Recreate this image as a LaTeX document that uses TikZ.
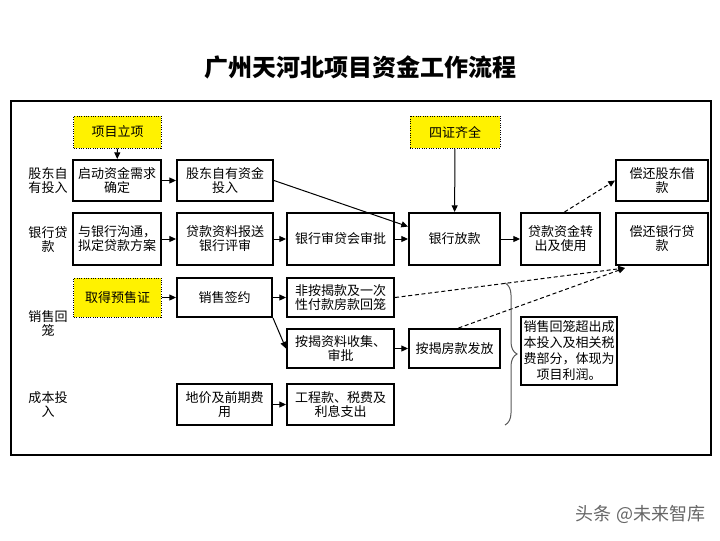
\documentclass[tikz,border=0pt]{standalone}
\usepackage{fontspec}
\newfontfamily\cjk{Noto Sans CJK SC}
\usetikzlibrary{arrows.meta,decorations.pathreplacing}

\begin{document}
\begin{tikzpicture}[x=0.75pt,y=0.75pt,yscale=-1,xscale=1,
	box/.style={draw,line width=1.5pt,inner sep=0pt,align=center,font=\cjk\fontsize{9.75}{10.5}\selectfont},
	ybox/.style={draw,densely dotted,line width=0.75pt,fill=yellow,inner sep=0pt,align=center,font=\cjk\fontsize{9.75}{10.5}\selectfont},
	lab/.style={inner sep=0pt,align=center,font=\cjk\fontsize{9.75}{10.5}\selectfont},
	arr/.style={-{Triangle[length=5pt,width=4.5pt]},line width=0.75pt},
	darr/.style={arr,dash pattern=on 3pt off 2pt}]
	\useasboundingbox (0,0) rectangle (720,540);
	
	% Title
	\draw (360,67) node [font=\cjk\bfseries\fontsize{18}{20}\selectfont] (title) {广州天河北项目资金工作流程};
	%Shape: Rectangle (frame)
	\draw [line width=1.5pt] (11,101) -- (711,101) -- (711,455) -- (11,455) -- cycle ;
	
	% Row labels
	\draw (48,181) node [lab] (r1) {股东自\\有投入};
	\draw (48,240) node [lab] (r2) {银行贷\\款};
	\draw (48,324) node [lab] (r3) {销售回\\笼};
	\draw (48,405) node [lab] (r4) {成本投\\入};
	
	% Boxes
	\draw (117.5,132) node [ybox,minimum width=65.5pt,minimum height=24pt] (lx) {项目立项};
	\draw (455,132) node [ybox,minimum width=67.5pt,minimum height=24pt] (sz) {四证齐全};
	\draw (117,180.5) node [box,minimum width=66pt,minimum height=30.75pt] (qd) {启动资金需求\\确定};
	\draw (225,180.5) node [box,minimum width=72pt,minimum height=30.75pt] (gd) {股东自有资金\\投入};
	\draw (662,180.5) node [box,minimum width=69pt,minimum height=30.75pt] (hg) {偿还股东借\\款};
	\draw (117,239) node [box,minimum width=66pt,minimum height=39pt] (yh) {与银行沟通，\\拟定贷款方案};
	\draw (225,239) node [box,minimum width=72pt,minimum height=39pt] (zl) {贷款资料报送\\银行评审};
	\draw (340.5,239) node [box,minimum width=80.25pt,minimum height=39pt] (sp) {银行审贷会审批};
	\draw (454.5,239) node [box,minimum width=68.25pt,minimum height=39pt] (fk) {银行放款};
	\draw (560.5,239) node [box,minimum width=59.25pt,minimum height=39pt] (zc) {贷款资金转\\出及使用};
	\draw (662,239) node [box,minimum width=69pt,minimum height=39pt] (hy) {偿还银行贷\\款};
	\draw (117.5,297.5) node [ybox,minimum width=65.5pt,minimum height=29.25pt] (ys) {取得预售证};
	\draw (224.5,297.5) node [box,minimum width=71.25pt,minimum height=29.25pt] (qy) {销售签约};
	\draw (340.5,297.5) node [box,minimum width=80.25pt,minimum height=29.25pt] (fj) {非按揭款及一次\\性付款房款回笼};
	\draw (340.5,348.5) node [box,minimum width=80.25pt,minimum height=29.25pt] (aj) {按揭资料收集、\\审批};
	\draw (454.5,348.5) node [box,minimum width=68.25pt,minimum height=29.25pt] (ff) {按揭房款发放};
	\draw (569,351) node [box,minimum width=72pt,minimum height=51pt,font=\cjk\fontsize{9.75}{12}\selectfont] (lr) {销售回笼超出成\\本投入及相关税\\费部分，体现为\\项目利润。};
	\draw (224.5,404.5) node [box,minimum width=71.25pt,minimum height=30.75pt] (dj) {地价及前期费\\用};
	\draw (340.5,404.5) node [box,minimum width=80.25pt,minimum height=30.75pt] (gc) {工程款、税费及\\利息支出};
	
	% Arrows
	\draw [arr] (lx) -- (qd);
	\draw [arr] (qd) -- (gd);
	\draw [arr] (gd.east) -- (fk.165);
	\draw [arr] (yh) -- (zl);
	\draw [arr] (zl) -- (sp);
	\draw [arr] (sp) -- (fk);
	\draw [arr] (sz) -- (fk);
	\draw [arr] (fk) -- (zc);
	\draw [arr] (ys) -- (qy);
	\draw [arr] (qy) -- (fj);
	\draw [arr] (qy.south east) -- (aj.west);
	\draw [arr] (aj) -- (ff);
	\draw [arr] (dj) -- (gc);
	
	% Dashed arrows
	\coordinate (hyin) at (625,268);
	\draw [darr] ([xshift=3pt]zc.north) -- (hg.west);
	\draw [darr] (fj.east) -- (hyin);
	\draw [darr] ([xshift=3pt]ff.north) -- (hyin);
	
	% Brace
	\draw [gray!70!black,line width=0.75pt,decorate,decoration={brace,amplitude=9pt}] (505,283) -- (505,425);
	
	% Text Node
	\draw (640.5,514) node [text=gray!80!black,font=\cjk\fontsize{13.5}{14}\selectfont] (wm) {头条 @未来智库};
	
\end{tikzpicture}
\end{document}
